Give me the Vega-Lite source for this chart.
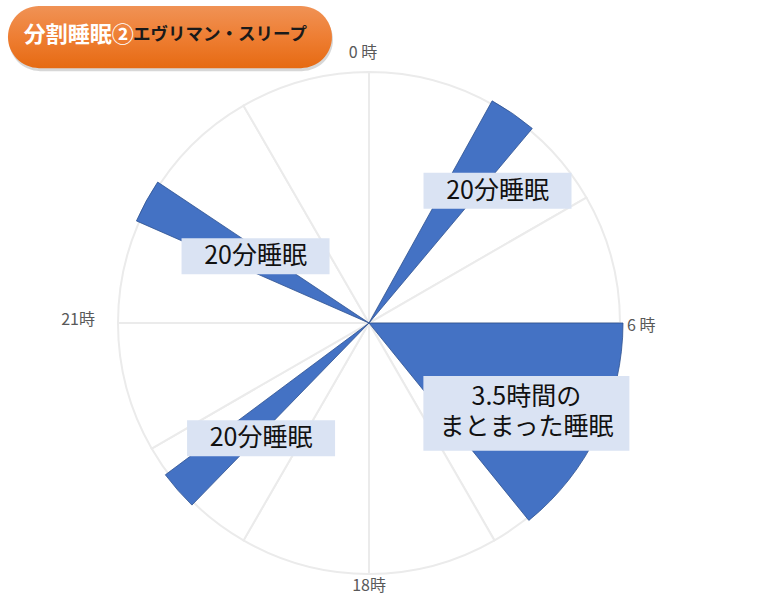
{
  "$schema": "https://vega.github.io/schema/vega-lite/v6.json",
  "width": 768,
  "height": 610,
  "autosize": {"type": "fit", "contains": "padding"},
  "padding": 0,
  "background": "white",
  "config": {"view": {"stroke": null}, "font": "Noto Sans CJK JP"},
  "datasets": {
    "grid": [
      {"a0": 0, "a1": 30}, {"a0": 30, "a1": 60}, {"a0": 60, "a1": 90},
      {"a0": 90, "a1": 120}, {"a0": 120, "a1": 150}, {"a0": 150, "a1": 180},
      {"a0": 180, "a1": 210}, {"a0": 210, "a1": 240}, {"a0": 240, "a1": 270},
      {"a0": 270, "a1": 300}, {"a0": 300, "a1": 330}, {"a0": 330, "a1": 360}
    ],
    "sleep": [
      {"kind": "nap", "a0": 29, "a1": 40},
      {"kind": "core", "a0": 90, "a1": 141},
      {"kind": "nap", "a0": 224.2, "a1": 233.3},
      {"kind": "nap", "a0": 293.7, "a1": 303.7}
    ],
    "hours": [
      {"angle": 0, "label": "0 時"},
      {"angle": 90, "label": "6 時"},
      {"angle": 180, "label": "18時"},
      {"angle": 270, "label": "21時"}
    ],
    "notes": [
      {"kind": "nap", "x": 51.2, "y": 52.7, "label": "20分睡眠"},
      {"kind": "nap", "x": -45.2, "y": 26.6, "label": "20分睡眠"},
      {"kind": "nap", "x": -43.0, "y": -45.9, "label": "20分睡眠"},
      {"kind": "core", "x": 62.7, "y": -36.0, "label": ["3.5時間の", "まとまった睡眠"]}
    ],
    "badge": [{"x": -79.3, "y": 113.9}],
    "title": [
      {"part": "main", "text": "分割睡眠②", "x": -137.5, "y": 114.9},
      {"part": "sub", "text": "エヴリマン・スリープ", "x": -94.0, "y": 114.9}
    ]
  },
  "layer": [
    {
      "data": {"name": "grid"},
      "mark": {"type": "arc", "outerRadius": 251, "innerRadius": 0, "fill": "white", "stroke": "#EBEBEB", "strokeWidth": 2},
      "encoding": {
        "x": {"datum": 0, "type": "quantitative", "scale": {"domain": [-147.01, 158.96], "nice": false, "zero": false}, "axis": null},
        "y": {"datum": 0, "type": "quantitative", "scale": {"domain": [-114.34, 128.69], "nice": false, "zero": false}, "axis": null},
        "theta": {"field": "a0", "type": "quantitative", "stack": null, "scale": {"domain": [0, 360], "range": [0, 6.283185]}},
        "theta2": {"field": "a1"}
      }
    },
    {
      "data": {"name": "sleep"},
      "mark": {"type": "arc", "outerRadius": 254, "innerRadius": 0, "fill": "#4472C4", "stroke": "#2F528F", "strokeWidth": 0.8},
      "encoding": {
        "x": {"datum": 0, "type": "quantitative", "axis": null},
        "y": {"datum": 0, "type": "quantitative", "axis": null},
        "theta": {"field": "a0", "type": "quantitative", "stack": null},
        "theta2": {"field": "a1"}
      }
    },
    {
      "data": {"name": "hours"},
      "transform": [{"filter": "datum.angle == 0"}],
      "mark": {"type": "text", "radius": 262, "align": "center", "baseline": "bottom", "dx": -6, "fontSize": 16, "color": "#595959"},
      "encoding": {
        "x": {"datum": 0, "type": "quantitative", "axis": null},
        "y": {"datum": 0, "type": "quantitative", "axis": null},
        "theta": {"field": "angle", "type": "quantitative", "stack": null},
        "text": {"field": "label"}
      }
    },
    {
      "data": {"name": "hours"},
      "transform": [{"filter": "datum.angle == 90"}],
      "mark": {"type": "text", "radius": 258, "align": "left", "baseline": "middle", "dy": 3, "fontSize": 16, "color": "#595959"},
      "encoding": {
        "x": {"datum": 0, "type": "quantitative", "axis": null},
        "y": {"datum": 0, "type": "quantitative", "axis": null},
        "theta": {"field": "angle", "type": "quantitative", "stack": null},
        "text": {"field": "label"}
      }
    },
    {
      "data": {"name": "hours"},
      "transform": [{"filter": "datum.angle == 180"}],
      "mark": {"type": "text", "radius": 255, "align": "center", "baseline": "top", "fontSize": 16, "color": "#595959"},
      "encoding": {
        "x": {"datum": 0, "type": "quantitative", "axis": null},
        "y": {"datum": 0, "type": "quantitative", "axis": null},
        "theta": {"field": "angle", "type": "quantitative", "stack": null},
        "text": {"field": "label"}
      }
    },
    {
      "data": {"name": "hours"},
      "transform": [{"filter": "datum.angle == 270"}],
      "mark": {"type": "text", "radius": 274, "align": "right", "baseline": "middle", "dy": -3, "fontSize": 16, "color": "#595959"},
      "encoding": {
        "x": {"datum": 0, "type": "quantitative", "axis": null},
        "y": {"datum": 0, "type": "quantitative", "axis": null},
        "theta": {"field": "angle", "type": "quantitative", "stack": null},
        "text": {"field": "label"}
      }
    },
    {
      "data": {"name": "notes"},
      "transform": [{"filter": "datum.kind == 'nap'"}],
      "mark": {"type": "point", "shape": "M-1,-0.2432H1V0.2432H-1Z", "size": 21904, "filled": true, "fill": "#DAE3F3", "opacity": 1, "strokeWidth": 0},
      "encoding": {
        "x": {"field": "x", "type": "quantitative", "axis": null},
        "y": {"field": "y", "type": "quantitative", "axis": null}
      }
    },
    {
      "data": {"name": "notes"},
      "transform": [{"filter": "datum.kind == 'core'"}],
      "mark": {"type": "point", "shape": "M-1,-0.364H1V0.364H-1Z", "size": 42436, "filled": true, "fill": "#DAE3F3", "opacity": 1, "strokeWidth": 0},
      "encoding": {
        "x": {"field": "x", "type": "quantitative", "axis": null},
        "y": {"field": "y", "type": "quantitative", "axis": null}
      }
    },
    {
      "data": {"name": "notes"},
      "transform": [{"filter": "datum.kind == 'nap'"}],
      "mark": {"type": "text", "fontSize": 25, "color": "#111111", "align": "center", "baseline": "middle"},
      "encoding": {
        "x": {"field": "x", "type": "quantitative", "axis": null},
        "y": {"field": "y", "type": "quantitative", "axis": null},
        "text": {"field": "label"}
      }
    },
    {
      "data": {"name": "notes"},
      "transform": [{"filter": "datum.kind == 'core'"}],
      "mark": {"type": "text", "fontSize": 25, "lineHeight": 30, "dy": -16, "color": "#111111", "align": "center", "baseline": "middle"},
      "encoding": {
        "x": {"field": "x", "type": "quantitative", "axis": null},
        "y": {"field": "y", "type": "quantitative", "axis": null},
        "text": {"field": "label"}
      }
    },
    {
      "data": {"name": "badge"},
      "mark": {"type": "point", "shape": "M-0.8086,-0.1914H0.8086A0.1914,0.1914,0,0,1,0.8086,0.1914H-0.8086A0.1914,0.1914,0,0,1,-0.8086,-0.1914Z", "size": 104976, "filled": true, "fill": "#8c8c8c", "opacity": 0.35, "strokeWidth": 0, "xOffset": 1, "yOffset": 3},
      "encoding": {
        "x": {"field": "x", "type": "quantitative", "axis": null},
        "y": {"field": "y", "type": "quantitative", "axis": null}
      }
    },
    {
      "data": {"name": "badge"},
      "mark": {
        "type": "point",
        "shape": "M-0.8086,-0.1914H0.8086A0.1914,0.1914,0,0,1,0.8086,0.1914H-0.8086A0.1914,0.1914,0,0,1,-0.8086,-0.1914Z",
        "size": 104976,
        "filled": true,
        "opacity": 1,
        "strokeWidth": 0,
        "fill": {
          "gradient": "linear", "x1": 0, "y1": 0, "x2": 0, "y2": 1,
          "stops": [
            {"offset": 0, "color": "#F09255"},
            {"offset": 0.5, "color": "#EE7E33"},
            {"offset": 1, "color": "#E66A12"}
          ]
        }
      },
      "encoding": {
        "x": {"field": "x", "type": "quantitative", "axis": null},
        "y": {"field": "y", "type": "quantitative", "axis": null}
      }
    },
    {
      "data": {"name": "title"},
      "transform": [{"filter": "datum.part == 'main'"}],
      "mark": {"type": "text", "fontSize": 22, "fontWeight": "bold", "color": "white", "align": "left", "baseline": "middle"},
      "encoding": {
        "x": {"field": "x", "type": "quantitative", "axis": null},
        "y": {"field": "y", "type": "quantitative", "axis": null},
        "text": {"field": "text"}
      }
    },
    {
      "data": {"name": "title"},
      "transform": [{"filter": "datum.part == 'sub'"}],
      "mark": {"type": "text", "fontSize": 17.5, "fontWeight": "bold", "color": "#1a1a1a", "align": "left", "baseline": "middle"},
      "encoding": {
        "x": {"field": "x", "type": "quantitative", "axis": null},
        "y": {"field": "y", "type": "quantitative", "axis": null},
        "text": {"field": "text"}
      }
    }
  ]
}
